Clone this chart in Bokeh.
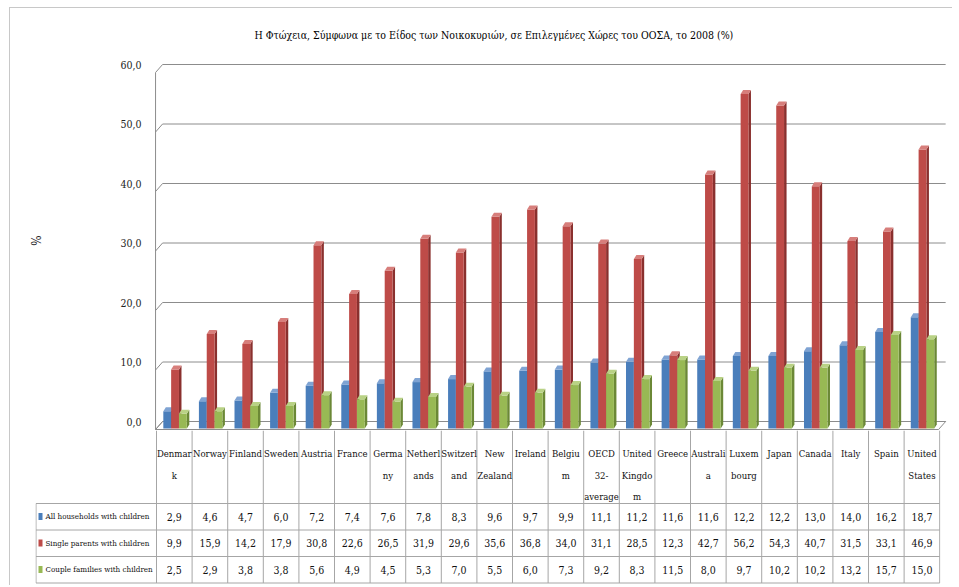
from bokeh.plotting import figure
from bokeh.models import Range1d, FixedTicker, CustomJSTickFormatter
from bokeh.layouts import column
from bokeh.embed import file_html
from bokeh.resources import INLINE
from bokeh.core.properties import value

# ---------------- data ----------------
countries = ["Denmar\nk", "Norway", "Finland", "Sweden", "Austria", "France",
             "Germa\nny", "Netherl\nands", "Switzerl\nand", "New\nZealand",
             "Ireland", "Belgiu\nm", "OECD\n32-\naverage", "United\nKingdo\nm",
             "Greece", "Australi\na", "Luxem\nbourg", "Japan", "Canada", "Italy",
             "Spain", "United\nStates"]
all_households = [2.9, 4.6, 4.7, 6.0, 7.2, 7.4, 7.6, 7.8, 8.3, 9.6, 9.7, 9.9,
                  11.1, 11.2, 11.6, 11.6, 12.2, 12.2, 13.0, 14.0, 16.2, 18.7]
single_parents = [9.9, 15.9, 14.2, 17.9, 30.8, 22.6, 26.5, 31.9, 29.6, 35.6, 36.8, 34.0,
                  31.1, 28.5, 12.3, 42.7, 56.2, 54.3, 40.7, 31.5, 33.1, 46.9]
couple_families = [2.5, 2.9, 3.8, 3.8, 5.6, 4.9, 4.5, 5.3, 7.0, 5.5, 6.0, 7.3,
                   9.2, 8.3, 11.5, 8.0, 9.7, 10.2, 10.2, 13.2, 15.7, 15.0]
series_names = ["All households with children", "Single parents with children",
                "Couple families with children"]
y_ticks = [0, 10, 20, 30, 40, 50, 60]
title_text = "Η Φτώχεια, Σύμφωνα με το Είδος των Νοικοκυριών, σε Επιλεγμένες Χώρες του ΟΟΣΑ, το 2008 (%)"

# ---------------- styling ----------------
F = "DejaVu Serif Condensed"
PX = 35.6          # px per category
PY = 5.95          # px per percentage point
BACK = 7 / PY      # back wall offset (data units)
FRONT = BACK - 8 / PY
FL, BL = -0.528, -0.331      # front-left / back-left x of the wall
FR, BR = 21.47, 21.67        # front-right / back-right x of the floor
W = 0.22
DX, DY = 2.5 / PX, 4 / PY
grid_col = "#8C8C8C"
WIDTH = 952

series = [
    (all_households, -0.20, "#4A7EBB", "#2F5A8F", "#7FA3D3"),
    (single_parents, 0.02, "#BE4B48", "#8A302E", "#D77E7B"),
    (couple_families, 0.24, "#98B954", "#6B8836", "#B9D285"),
]

# ---------------- chart ----------------
p = figure(width=WIDTH, height=430, x_range=Range1d(-0.67, 21.75), y_range=Range1d(-0.336, 63.53),
           output_backend="svg", toolbar_location=None, x_axis_location=None,
           min_border_left=150, min_border_right=4, min_border_top=50, min_border_bottom=0)
p.outline_line_color = None
p.grid.visible = False
p.background_fill_color = None
p.border_fill_color = None

p.title.text = title_text
p.title.align = "left"
p.title.offset = 104
p.title.standoff = 19
p.title.text_font = F
p.title.text_font_size = "10.5px"
p.title.text_font_style = "normal"
p.title.text_color = "black"

ya = p.yaxis[0]
ya.ticker = FixedTicker(ticks=[g + BACK for g in y_ticks])
ya.formatter = CustomJSTickFormatter(args=dict(off=BACK),
                                     code="return (tick - off).toFixed(1).replace('.', ',')")
ya.major_tick_line_color = None
ya.minor_tick_line_color = None
ya.axis_line_color = None
ya.major_label_standoff = 3
ya.major_label_text_font = F
ya.major_label_text_font_size = "10.5px"
ya.major_label_text_color = "#222222"
ya.axis_label = "%"
ya.axis_label_standoff = 73
ya.axis_label_text_font = F
ya.axis_label_text_font_size = "12px"
ya.axis_label_text_font_style = "normal"
ya.axis_label_text_color = "#222222"

# floor
p.patch([FL, FR, BR, BL], [FRONT, FRONT, BACK, BACK], fill_color="white",
        line_color=grid_col, line_width=1)
# wall front edge
p.segment(x0=[FL], y0=[FRONT], x1=[FL], y1=[y_ticks[-1] + FRONT], line_color=grid_col)
# gridlines on back wall with their diagonal on the side wall
p.segment(x0=[FL] * len(y_ticks), y0=[g + FRONT for g in y_ticks],
          x1=[BL] * len(y_ticks), y1=[g + BACK for g in y_ticks], line_color=grid_col)
p.segment(x0=[BL] * len(y_ticks), y0=[g + BACK for g in y_ticks],
          x1=[BR] * len(y_ticks), y1=[g + BACK for g in y_ticks], line_color=grid_col)

for vals, off, c_front, c_side, c_top in series:
    lefts = [i + off - W / 2 for i in range(len(vals))]
    rights = [i + off + W / 2 for i in range(len(vals))]
    p.patches([[r, r + DX, r + DX, r] for r in rights],
              [[0, DY, v + DY, v] for v in vals],
              fill_color=c_side, line_color=None)
    p.quad(left=lefts, right=rights, bottom=0, top=vals, fill_color=c_front, line_color=None)
    p.patches([[l, r, r + DX, l + DX] for l, r in zip(lefts, rights)],
              [[v, v, v + DY, v + DY] for v in vals],
              fill_color=c_top, line_color=None)

# ---------------- data table ----------------
t = figure(width=WIDTH, height=155, x_range=Range1d(-3.899, 21.522), y_range=Range1d(155, 0),
           output_backend="svg", toolbar_location=None, x_axis_location=None, y_axis_location=None,
           min_border_left=35, min_border_right=12, min_border_top=0, min_border_bottom=0)
t.outline_line_color = None
t.grid.visible = False
t.background_fill_color = None
t.border_fill_color = None

n = len(countries)
line_col = "#A6A6A6"
row_lines = [73, 99.5, 126, 152.5]
row_mid = [86, 112.5, 139]
t.segment(x0=[i - 0.5 for i in range(n + 1)], y0=0, x1=[i - 0.5 for i in range(n + 1)],
          y1=row_lines[-1], line_color=line_col)
t.segment(x0=[-3.885], y0=[row_lines[0]], x1=[-3.885], y1=[row_lines[-1]], line_color=line_col)
t.segment(x0=-3.885, y0=row_lines, x1=n - 0.5, y1=row_lines, line_color=line_col)

cx, cy, ct = [], [], []
for i, name in enumerate(countries):
    for k, part in enumerate(name.split("\n")):
        cx.append(i)
        cy.append(23 + k * 21.5)
        ct.append(part)
t.text(x=cx, y=cy, text=ct, text_font=value(F), text_font_size="9.5px",
       text_align="center", text_baseline="middle", text_color="#111111")

fmt = lambda v: f"{v:.1f}".replace(".", ",")
for (vals, off, c_front, c_side, c_top), name, ym in zip(series, series_names, row_mid):
    t.text(x=list(range(n)), y=[ym] * n, text=[fmt(v) for v in vals], text_font=value(F),
           text_font_size="10.5px", text_align="center", text_baseline="middle",
           text_color="#111111")
    t.rect(x=[-3.899 + 5 / PX], y=[ym], width=4, height=7, width_units="screen",
           height_units="screen", fill_color=c_front, line_color=None)
    t.text(x=[-3.62], y=[ym], text=[name], text_font=value(F), text_font_size="8px",
           text_align="left", text_baseline="middle", text_color="#111111")

frame_css = ("linear-gradient(#C8C8C8,#C8C8C8) 9px 7px / 1px 100% no-repeat, "
             "linear-gradient(#C8C8C8,#C8C8C8) 9px 7px / 100% 1px no-repeat, white")
layout = column(column(p), column(t), spacing=0, styles={"background": frame_css})

open("out.html", "w").write(file_html(layout, INLINE))
